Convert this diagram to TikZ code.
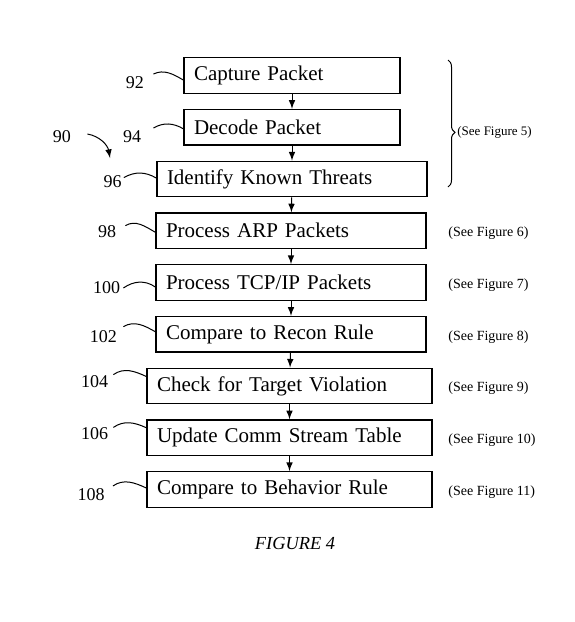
\documentclass[tikz,border=0pt]{standalone}
\usepackage{fontspec}
\setmainfont{Liberation Serif}
\usetikzlibrary{positioning}
\usetikzlibrary{decorations.pathreplacing}
\tikzset{
	stage/.style={draw, rectangle, line width=0.7pt, minimum height=17.75pt, inner xsep=5pt, align=left, font=\fontsize{10.5}{12}\selectfont},
	narrow/.style={text width=98pt},
	medium/.style={text width=125pt},
	wide/.style={text width=132.5pt},
	refnum/.style={inner sep=1pt, font=\fontsize{9}{10}\selectfont},
	% notes in the right column
	seefig/.style={anchor=west, inner sep=0pt, yshift=-1.25pt, font=\fontsize{7}{8}\selectfont},
	leader/.style={line width=0.5pt},
}

\begin{document}
\begin{tikzpicture}[node distance=25.875pt]
		\useasboundingbox (0,0) rectangle (287pt,-311pt);
		
		\node (cap) [stage, narrow] at (146pt,-37.75pt) {Capture Packet};
		\node (dec) [stage, narrow, below of=cap] {Decode Packet};
		\node (idt) [stage, medium, below of=dec] {Identify Known Threats};
		\node (arp) [stage, medium, below of=idt, xshift=-0.5pt] {Process ARP Packets};
		\node (tcp) [stage, medium, below of=arp] {Process TCP/IP Packets};
		\node (rec) [stage, medium, below of=tcp] {Compare to Recon Rule};
		\node (tgt) [stage, wide, below of=rec, xshift=-0.75pt] {Check for Target Violation};
		\node (cst) [stage, wide, below of=tgt] {Update Comm Stream Table};
		\node (beh) [stage, wide, below of=cst] {Compare to Behavior Rule};
		
		\node (n90) [refnum] at (31pt,-68.5pt) {90};
		\node (n92) [refnum] at (67.5pt,-41.5pt) {92};
		\node (n94) [refnum] at (66pt,-68.5pt) {94};
		\node (n96) [refnum] at (56.25pt,-90.8pt) {96};
		\node (n98) [refnum] at (53.5pt,-115.8pt) {98};
		\node (n100) [refnum] at (53.25pt,-144pt) {100};
		\node (n102) [refnum] at (51.75pt,-168.3pt) {102};
		\node (n104) [refnum] at (47.25pt,-190.8pt) {104};
		\node (n106) [refnum] at (47.25pt,-216.7pt) {106};
		\node (n108) [refnum] at (45.5pt,-247.5pt) {108};
		\coordinate (tip90) at (55pt,-79pt);
		
		\coordinate (seecol) at (224pt,0);
		\node (see5) [seefig, yshift=1.25pt, font=\fontsize{6.5}{8}\selectfont] at (228.5pt,-66pt) {(See Figure 5)};
		\node (see6) [seefig] at (seecol |- arp) {(See Figure 6)};
		\node (see7) [seefig] at (seecol |- tcp) {(See Figure 7)};
		\node (see8) [seefig] at (seecol |- rec) {(See Figure 8)};
		\node (see9) [seefig] at (seecol |- tgt) {(See Figure 9)};
		\node (see10) [seefig] at (seecol |- cst) {(See Figure 10)};
		\node (see11) [seefig] at (seecol |- beh) {(See Figure 11)};
		
		\node (fig) [font=\fontsize{9.2}{11}\selectfont\itshape] at (147.5pt,-271.5pt) {FIGURE 4};
		
		\begin{scope}[line width=0.5pt, -latex]
			\draw (cap) -- (dec);
			\draw (dec) -- (idt);
			\draw (idt) -- (arp);
			\draw (arp) -- (tcp);
			\draw (tcp) -- (rec);
			\draw (rec) -- (tgt);
			\draw (tgt) -- (cst);
			\draw (cst) -- (beh);
			\draw ([shift={(7pt,1.5pt)}]n90.east) to[out=-10, in=100] (tip90);
		\end{scope}
		
		\begin{scope}[leader]
			\draw ([shift={(3.5pt,4.5pt)}]n92.east) to[out=25, in=150] ([yshift=-2.25pt]cap.west);
			\draw ([shift={(5pt,4.5pt)}]n94.east) to[out=30, in=150] ([yshift=-0.75pt]dec.west);
			\draw ([shift={(0pt,2pt)}]n96.east) to[out=30, in=150] ([yshift=0.5pt]idt.west);
			\draw ([shift={(3.5pt,3pt)}]n98.east) to[out=30, in=150] ([yshift=-0.75pt]arp.west);
			\draw ([shift={(0.5pt,0pt)}]n100.east) to[out=35, in=145] ([yshift=-2.25pt]tcp.west);
			\draw ([shift={(2pt,5pt)}]n102.east) to[out=30, in=150] ([yshift=1.25pt]rec.west);
			\draw ([shift={(1.5pt,3.5pt)}]n104.east) to[out=35, in=155] ([yshift=4.75pt]tgt.west);
			\draw ([shift={(1.5pt,3pt)}]n106.east) to[out=35, in=155] ([yshift=5pt]cst.west);
			\draw ([shift={(3pt,4.5pt)}]n108.east) to[out=35, in=155] ([yshift=0.75pt]beh.west);
		\end{scope}
		
		\coordinate (bratop) at (224pt,-30pt);
		\coordinate (brabot) at (224pt,-93.5pt);
		\draw [line width=0.5pt, decorate, decoration={brace, amplitude=3.5pt, aspect=0.57}] (bratop) -- (brabot);
	\end{tikzpicture}
\end{document}
